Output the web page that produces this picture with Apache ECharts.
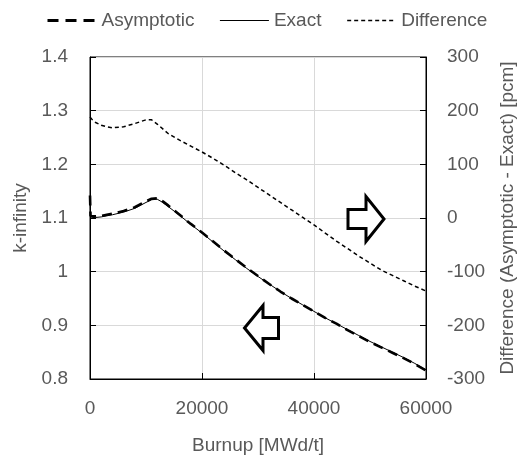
<!DOCTYPE html>
<html>
<head>
<meta charset="utf-8">
<script src="https://cdn.jsdelivr.net/npm/echarts@6/dist/echarts.min.js"></script>
<style>html,body{margin:0;padding:0;background:#fff;}#c{width:529px;height:460px;}</style>
</head>
<body>
<div id="c"></div>
<script>
const burnup = [0, 100, 500, 1000, 2000, 3000, 4000, 6000, 8000, 10000, 11000, 12000, 13000, 14000, 16000, 18000, 20000, 22000, 24000, 26000, 28000, 30000, 32000, 34000, 36000, 38000, 40000, 42000, 44000, 46000, 48000, 50000, 52000, 54000, 56000, 58000, 60000];
const exact = [1.140, 1.102, 1.101, 1.101, 1.102, 1.104, 1.106, 1.111, 1.118, 1.129, 1.134, 1.135, 1.129, 1.121, 1.105, 1.088, 1.072, 1.055, 1.038, 1.022, 1.006, 0.991, 0.977, 0.963, 0.950, 0.938, 0.926, 0.914, 0.903, 0.892, 0.881, 0.870, 0.860, 0.850, 0.840, 0.829, 0.817];
const asymptotic = [1.142, 1.104, 1.103, 1.103, 1.104, 1.106, 1.108, 1.113, 1.120, 1.131, 1.136, 1.137, 1.131, 1.123, 1.106, 1.089, 1.073, 1.056, 1.039, 1.023, 1.007, 0.992, 0.977, 0.963, 0.950, 0.938, 0.926, 0.914, 0.903, 0.891, 0.880, 0.869, 0.859, 0.849, 0.839, 0.828, 0.816];
const difference = [188, 186, 182, 178, 173, 170, 168, 170, 176, 183, 183, 175, 166, 157, 145, 134, 123, 111, 98, 84, 71, 57, 43, 29, 15, 1, -13, -28, -43, -57, -71, -84, -97, -107, -117, -127, -136];
const seriesNames = ['Asymptotic', 'Exact', 'Difference'];

const pair = arr => burnup.map((x, i) => [x, arr[i]]);
const FONT = "'Liberation Sans', Arial, sans-serif";
const TXT = '#595959';

const chart = echarts.init(document.getElementById('c'), null, {renderer: 'canvas'});
chart.setOption({
  animation: false,
  backgroundColor: '#fff',
  textStyle: {fontFamily: FONT, color: TXT},
  legend: {
    data: [
      {name: seriesNames[0], lineStyle: {width: 3, type: [11, 7], color: '#000'}},
      {name: seriesNames[1], lineStyle: {width: 1, type: 'solid', color: '#000'}},
      {name: seriesNames[2], lineStyle: {width: 1.5, type: [4, 3], color: '#000'}}
    ],
    top: 6, left: 41,
    itemWidth: 49, itemHeight: 22, itemGap: 25,
    itemStyle: {opacity: 0},
    textStyle: {fontFamily: FONT, fontSize: 19, color: TXT}
  },
  grid: {left: 90, right: 103, top: 57, bottom: 78, show: true, borderColor: '#000', borderWidth: 1, backgroundColor: 'transparent'},
  xAxis: {
    type: 'value', min: 0, max: 60000, interval: 20000,
    name: 'Burnup [MWd/t]', nameLocation: 'middle', nameGap: 57,
    nameTextStyle: {fontFamily: FONT, fontSize: 19, color: TXT},
    axisLine: {show: true, onZero: false, lineStyle: {color: '#000', width: 1}},
    axisTick: {show: true, inside: true, length: 6, lineStyle: {color: '#000'}},
    axisLabel: {margin: 20, fontFamily: FONT, fontSize: 19, color: TXT, formatter: v => String(v)},
    splitLine: {show: true, lineStyle: {color: '#d9d9d9', width: 1}}
  },
  yAxis: [{
    type: 'value', min: 0.8, max: 1.4, interval: 0.1, position: 'left',
    name: 'k-infinity', nameLocation: 'middle', nameGap: 60, nameRotate: 90,
    nameTextStyle: {fontFamily: FONT, fontSize: 19, color: TXT},
    axisLine: {show: true, onZero: false, lineStyle: {color: '#000', width: 1}},
    axisTick: {show: true, inside: true, length: 6, lineStyle: {color: '#000'}},
    axisLabel: {margin: 22, fontFamily: FONT, fontSize: 19, color: TXT, formatter: v => String(Math.round(v * 10) / 10)},
    splitLine: {show: true, lineStyle: {color: '#d9d9d9', width: 1}}
  }, {
    type: 'value', min: -300, max: 300, interval: 100, position: 'right',
    name: 'Difference (Asymptotic - Exact) [pcm]', nameLocation: 'middle', nameGap: 72, nameRotate: 90,
    nameTextStyle: {fontFamily: FONT, fontSize: 19, color: TXT},
    axisLine: {show: true, onZero: false, lineStyle: {color: '#000', width: 1}},
    axisTick: {show: true, inside: true, length: 6, lineStyle: {color: '#000'}},
    axisLabel: {margin: 21, fontFamily: FONT, fontSize: 19, color: TXT},
    splitLine: {show: false}
  }],
  series: [{
    name: 'Exact', type: 'line', data: pair(exact), symbol: 'none', z: 2,
    lineStyle: {color: '#000', width: 1, type: 'solid'}, itemStyle: {color: '#000'}
  }, {
    name: 'Asymptotic', type: 'line', data: pair(asymptotic), symbol: 'none', z: 3,
    lineStyle: {color: '#000', width: 2.6, type: [10, 6]}, itemStyle: {color: '#000'}
  }, {
    name: 'Difference', type: 'line', yAxisIndex: 1, data: pair(difference), symbol: 'none', z: 3,
    lineStyle: {color: '#000', width: 1.5, type: [4, 3]}, itemStyle: {color: '#000'}
  }],
  graphic: [{
    type: 'polygon', z: 10,
    shape: {points: [[348,209.5],[366,209.5],[366,196.5],[384,219],[366,241.5],[366,228.5],[348,228.5]]},
    style: {fill: '#fff', stroke: '#000', lineWidth: 3, lineJoin: 'miter'}
  }, {
    type: 'polygon', z: 10,
    shape: {points: [[278.5,317.5],[263,317.5],[263,305.5],[244.5,328],[263,350.5],[263,338.5],[278.5,338.5]]},
    style: {fill: '#fff', stroke: '#000', lineWidth: 3, lineJoin: 'miter'}
  }]
});
</script>
</body>
</html>
